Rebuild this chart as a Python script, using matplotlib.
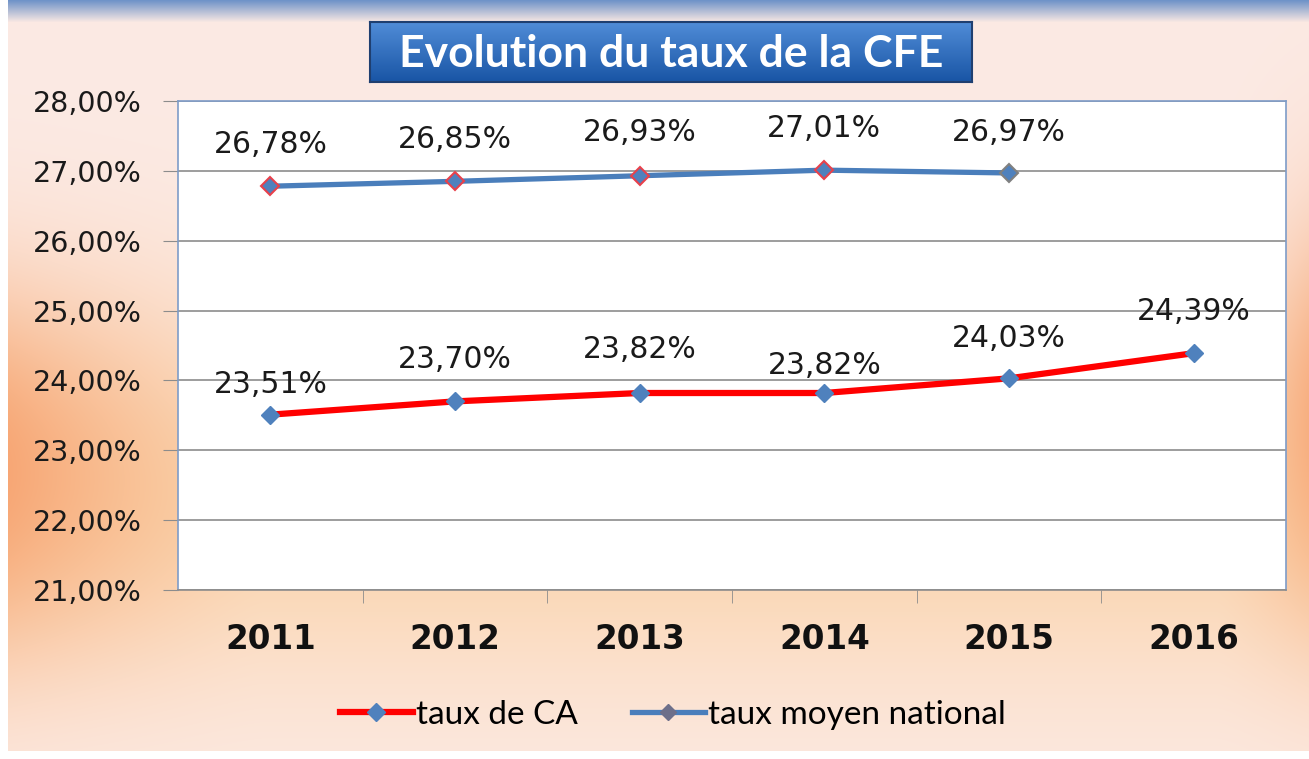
import numpy as np
import matplotlib
matplotlib.use("Agg")
import matplotlib.pyplot as plt
from matplotlib.ticker import FuncFormatter, FixedLocator
from matplotlib.lines import Line2D

years = ["2011", "2012", "2013", "2014", "2015", "2016"]
taux_ca = [23.51, 23.70, 23.82, 23.82, 24.03, 24.39]
taux_national = [26.78, 26.85, 26.93, 27.01, 26.97]

ca_label_dy = [22, 30, 31, 20, 29, 30]
nat_label_dy = [30, 30, 31, 30, 29]

RED = "#FF0000"
BLUE = "#4A7EBB"
MARKER_BLUE = "#4F81BD"


def fmt_pct(v):
    return f"{v:.2f}".replace(".", ",") + "%"


W, H = 1309, 759
fig = plt.figure(figsize=(W / 100, H / 100), dpi=100)

# background gradient (pink top/bottom, peach/orange band, stronger at the edges)
yy, xx = np.mgrid[0:H, 0:W]
xn = xx / W
yn = yy / H
light = np.array([252, 234, 228]) / 255
peach = np.array([250, 205, 155]) / 255
orange = np.array([247, 165, 115]) / 255
v = np.exp(-((yn - 0.66) / 0.24) ** 2)[..., None] * 0.75
img = light * (1 - v) + peach * v
w_left = np.clip(1 - xn / 0.2, 0, 1) ** 1.3 * np.exp(-((yn - 0.62) / 0.22) ** 2)
w_right = np.clip((xn - 0.93) / 0.07, 0, 1) ** 1.3 * np.exp(-((yn - 0.55) / 0.25) ** 2) * 0.8
w = np.clip(w_left + w_right, 0, 1)[..., None]
img = img * (1 - w) + orange * w
# blue band at top
band = np.clip(1 - yy / 22.0, 0, 1)[..., None]
img = img * (1 - band) + np.array([111, 147, 200]) / 255 * band
img[:, :8] = 1.0
img[751:, :] = 1.0
bg = fig.add_axes([0, 0, 1, 1], zorder=-5)
bg.imshow(img, aspect="auto", extent=[0, 1, 0, 1])
bg.axis("off")

# title box with gradient
tb = fig.add_axes([370 / W, 1 - 82 / H, 602 / W, 60 / H], zorder=2)
grad = np.linspace(0, 1, 60)[:, None, None]
top_c = np.array([80, 140, 215]) / 255
bot_c = np.array([25, 85, 165]) / 255
tb.imshow(top_c * (1 - grad) + bot_c * grad * np.ones((1, 10, 3)), aspect="auto", extent=[0, 1, 0, 1])
tb.set_xticks([])
tb.set_yticks([])
for s in tb.spines.values():
    s.set_color("#1F3F70")
    s.set_linewidth(1.5)
tb.text(0.5, 0.47, "Evolution du taux de la CFE", color="white", fontsize=32,
        fontweight="bold", family="Lato", ha="center", va="center",
        transform=tb.transAxes)

# main chart
ax = fig.add_axes([178 / W, 1 - 590 / H, 1108 / W, 489 / H])
ax.set_facecolor("white")
x = np.arange(len(years))

ax.plot(x, taux_ca, color=RED, lw=4.5, marker="D", ms=9,
        mfc=MARKER_BLUE, mec=MARKER_BLUE, zorder=3)
xn_idx = np.arange(len(taux_national))
ax.plot(xn_idx, taux_national, color=BLUE, lw=3.8, zorder=3)
mec = ["#E8414B"] * (len(taux_national) - 1) + ["#808080"]
for i, val in zip(xn_idx, taux_national):
    ax.plot(i, val, marker="D", ms=9, mfc=MARKER_BLUE, mec=mec[i], mew=1.5, zorder=4)

for i, val in enumerate(taux_ca):
    ax.annotate(fmt_pct(val), (i, val), xytext=(0, ca_label_dy[i]), textcoords="offset points",
                ha="center", va="center", fontsize=21.5, color="#1a1a1a")
for i, val in enumerate(taux_national):
    ax.annotate(fmt_pct(val), (i, val), xytext=(0, nat_label_dy[i]), textcoords="offset points",
                ha="center", va="center", fontsize=21.5, color="#1a1a1a")

ax.set_xlim(-0.5, len(years) - 0.5)
ax.set_ylim(21, 28)
ax.set_yticks(np.arange(21, 28.1, 1))
ax.yaxis.set_major_formatter(FuncFormatter(lambda v, p: fmt_pct(v)))
ax.grid(axis="y", color="#8C8C8C", lw=1.2)
ax.set_axisbelow(True)

ax.set_xticks(x)
ax.set_xticklabels(years, fontsize=23.5, fontweight="bold", color="#111111")
ax.xaxis.set_minor_locator(FixedLocator(np.arange(0.5, len(years) - 0.5, 1)))
ax.tick_params(axis="x", which="major", length=0, pad=24)
ax.tick_params(axis="x", which="minor", length=9, color="#8C8C8C", direction="out")
ax.tick_params(axis="y", length=11, color="#8C8C8C", labelsize=20.5, labelcolor="#1a1a1a", pad=15)

for side in ["left", "right", "top"]:
    ax.spines[side].set_color("#7E9CC8")
    ax.spines[side].set_linewidth(1.2)
ax.spines["bottom"].set_color("#8C8C8C")
ax.spines["bottom"].set_linewidth(1.2)

handles = [
    Line2D([], [], color=RED, lw=4.5, marker="D", ms=9, mfc=MARKER_BLUE, mec=MARKER_BLUE),
    Line2D([], [], color=BLUE, lw=3.8, marker="D", ms=8, mfc="#6D6F8A", mec="#6D6F8A"),
]
fig.legend(handles, ["taux de CA", "taux moyen national"], loc="center",
           bbox_to_anchor=(673 / W, 1 - 715 / H), ncol=2, frameon=False,
           prop={"family": "Lato", "size": 24}, handlelength=2.2,
           handletextpad=0.1, columnspacing=1.6)

fig.savefig("out.png", dpi=100)
